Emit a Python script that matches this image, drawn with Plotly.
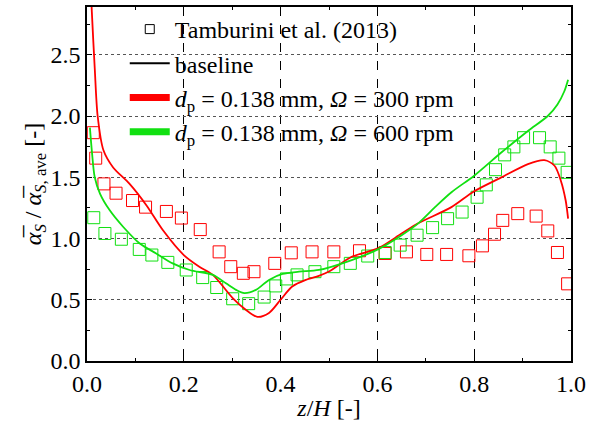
import plotly.graph_objects as go

# Experimental data (Tamburini et al. 2013)
exp300_x = [0.013, 0.018, 0.035, 0.060, 0.094, 0.121, 0.164, 0.195, 0.234, 0.273, 0.297, 0.323, 0.345,
            0.388, 0.422, 0.465, 0.510, 0.563, 0.616, 0.660, 0.702, 0.743, 0.789, 0.817, 0.842, 0.859,
            0.890, 0.928, 0.952, 0.972, 0.993]
exp300_y = [1.864, 1.656, 1.446, 1.370, 1.310, 1.256, 1.221, 1.167, 1.073, 0.891, 0.770, 0.716, 0.729,
            0.797, 0.883, 0.891, 0.891, 0.900, 0.878, 0.891, 0.870, 0.870, 0.859, 0.940, 1.035, 1.148,
            1.203, 1.183, 1.062, 0.886, 0.630]
exp600_x = [0.014, 0.037, 0.071, 0.108, 0.134, 0.167, 0.205, 0.239, 0.268, 0.301, 0.334, 0.366, 0.390,
            0.412, 0.434, 0.471, 0.510, 0.544, 0.580, 0.616, 0.647, 0.682, 0.714, 0.745, 0.775, 0.806,
            0.825, 0.844, 0.863, 0.882, 0.902, 0.935, 0.957, 0.975, 0.992]
exp600_y = [1.170, 1.041, 0.994, 0.911, 0.865, 0.805, 0.743, 0.681, 0.600, 0.508, 0.468, 0.522, 0.613,
            0.670, 0.703, 0.729, 0.770, 0.797, 0.857, 0.886, 0.946, 1.027, 1.089, 1.162, 1.216, 1.337,
            1.438, 1.562, 1.683, 1.748, 1.823, 1.823, 1.748, 1.656, 1.540]

# Simulation curves
sim300_x = [0.005, 0.01, 0.016, 0.022, 0.034, 0.054, 0.088, 0.123, 0.157, 0.2, 0.232, 0.26, 0.301, 0.328,
            0.352, 0.376, 0.4, 0.424, 0.452, 0.479, 0.5, 0.547, 0.601, 0.65, 0.685, 0.753, 0.8, 0.856,
            0.911, 0.945, 0.966, 0.979, 0.989, 0.994]
sim300_y = [3.3, 2.85, 2.39, 2.0, 1.72, 1.58, 1.446, 1.27, 1.067, 0.865, 0.77, 0.703, 0.514, 0.419,
            0.36, 0.392, 0.5, 0.608, 0.662, 0.695, 0.73, 0.851, 0.919, 1.04, 1.126, 1.256, 1.386, 1.499,
            1.608, 1.64, 1.594, 1.472, 1.31, 1.162]
sim600_x = [0.006, 0.01, 0.016, 0.027, 0.047, 0.075, 0.109, 0.143, 0.177, 0.212, 0.26, 0.287, 0.308,
            0.325, 0.349, 0.376, 0.404, 0.438, 0.479, 0.547, 0.601, 0.65, 0.685, 0.719, 0.753, 0.8,
            0.856, 0.911, 0.952, 0.972, 0.986, 0.994]
sim600_y = [1.905, 1.716, 1.5, 1.365, 1.23, 1.094, 0.959, 0.878, 0.797, 0.743, 0.703, 0.635, 0.581,
            0.554, 0.581, 0.662, 0.711, 0.729, 0.743, 0.824, 0.911, 1.027, 1.126, 1.256, 1.378, 1.513,
            1.702, 1.878, 2.0, 2.094, 2.2, 2.297]

RED = "#FF0000"
GREEN = "#11E011"
FONT = "Liberation Serif"
FS = 24

fig = go.Figure()

# Data traces
fig.add_trace(go.Scatter(x=exp300_x, y=exp300_y, mode="markers", showlegend=False,
                         marker=dict(symbol="square-open", size=12, color=RED, line=dict(width=1))))
fig.add_trace(go.Scatter(x=exp600_x, y=exp600_y, mode="markers", showlegend=False,
                         marker=dict(symbol="square-open", size=12, color=GREEN, line=dict(width=1))))
fig.add_trace(go.Scatter(x=sim300_x, y=sim300_y, mode="lines", showlegend=False,
                         line=dict(color=RED, width=1.8, shape="spline", smoothing=0.8)))
fig.add_trace(go.Scatter(x=sim600_x, y=sim600_y, mode="lines", showlegend=False,
                         line=dict(color=GREEN, width=1.8, shape="spline", smoothing=0.8)))

# Legend entries
fig.add_trace(go.Scatter(x=[None], y=[None], mode="markers", name="Tamburini et al. (2013)",
                         marker=dict(symbol="square-open", size=9, color="black", line=dict(width=1))))
fig.add_trace(go.Scatter(x=[None], y=[None], mode="lines", name="baseline",
                         line=dict(color="black", width=2)))
fig.add_trace(go.Scatter(x=[None], y=[None], mode="lines",
                         name="<i>d</i><sub>p</sub> = 0.138 mm, <i>Ω</i> = 300 rpm",
                         line=dict(color=RED, width=7)))
fig.add_trace(go.Scatter(x=[None], y=[None], mode="lines",
                         name="<i>d</i><sub>p</sub> = 0.138 mm, <i>Ω</i> = 600 rpm",
                         line=dict(color=GREEN, width=7)))

fig.update_layout(
    width=591, height=423,
    margin=dict(l=87, r=18, t=5, b=62),
    paper_bgcolor="white", plot_bgcolor="white",
    legend=dict(x=0.078, y=1.0, xanchor="left", yanchor="top", bgcolor="rgba(0,0,0,0)",
                font=dict(family=FONT, size=FS, color="black"), tracegroupgap=0, itemwidth=40),
    xaxis=dict(range=[0, 1], dtick=0.2, tickformat=".1f", showline=True, linecolor="black",
               linewidth=1.5, mirror="allticks", ticks="inside", ticklen=5, tickcolor="black",
               showgrid=True, gridcolor="black", griddash="dash", gridwidth=0.8, zeroline=False,
               minor=dict(dtick=0.1, ticks="inside", ticklen=3, tickcolor="black", showgrid=False),
               title=dict(text="<i>z</i>/<i>H</i> [-]", standoff=4,
                          font=dict(family=FONT, size=FS, color="black")),
               tickfont=dict(family=FONT, size=FS, color="black")),
    yaxis=dict(range=[0, 2.89], dtick=0.5, tickformat=".1f", showline=True, linecolor="black",
               linewidth=1.5, mirror="allticks", ticks="inside", ticklen=5, tickcolor="black",
               showgrid=True, gridcolor="#555555", griddash="dot", gridwidth=0.8, zeroline=False,
               minor=dict(dtick=0.25, ticks="inside", ticklen=3, tickcolor="black", showgrid=False),
               title=dict(text="<i>α̅</i><sub><i>S</i></sub> / <i>α̅</i><sub><i>S</i>, ave</sub> [-]",
                          standoff=2, font=dict(family=FONT, size=FS, color="black")),
               tickfont=dict(family=FONT, size=FS, color="black")),
)

fig.write_html("out.html")
